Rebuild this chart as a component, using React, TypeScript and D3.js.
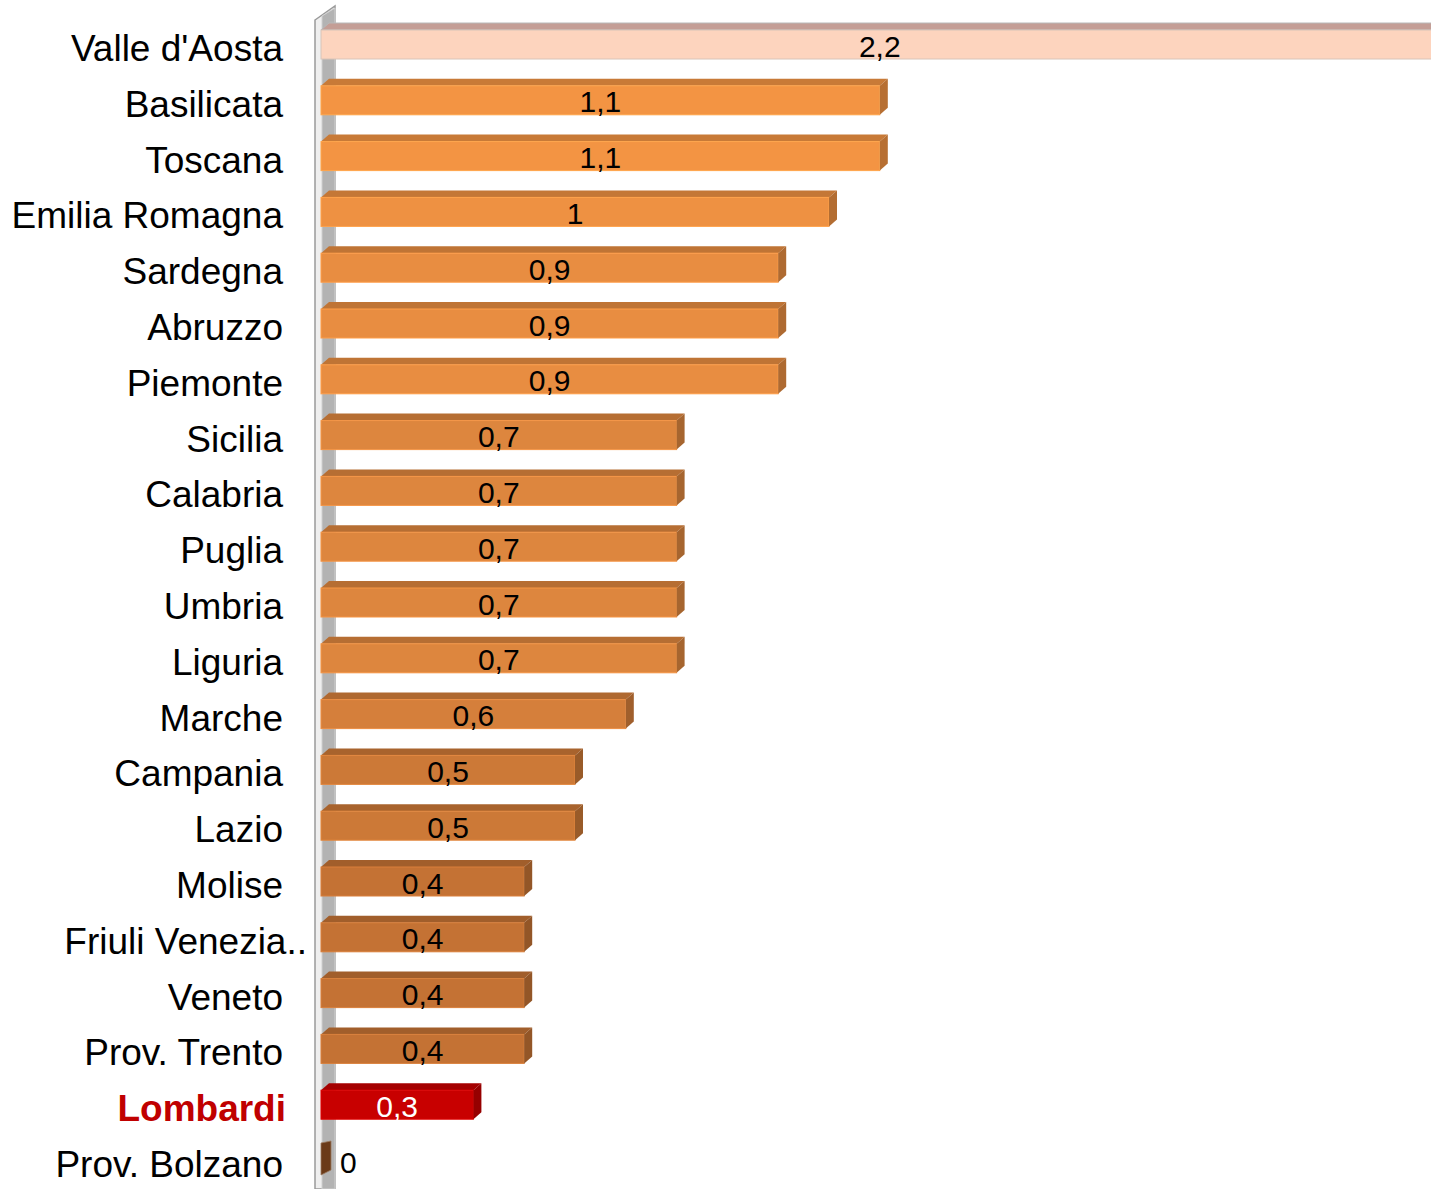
import React, { useEffect, useRef } from 'react';
import * as d3 from 'd3';

// regions, sorted as in the chart
const regions = [
  "Valle d'Aosta", 'Basilicata', 'Toscana', 'Emilia Romagna', 'Sardegna', 'Abruzzo',
  'Piemonte', 'Sicilia', 'Calabria', 'Puglia', 'Umbria', 'Liguria', 'Marche',
  'Campania', 'Lazio', 'Molise', 'Friuli Venezia..', 'Veneto', 'Prov. Trento',
  'Lombardi', 'Prov. Bolzano',
];
const values = [2.2, 1.1, 1.1, 1, 0.9, 0.9, 0.9, 0.7, 0.7, 0.7, 0.7, 0.7, 0.6, 0.5, 0.5, 0.4, 0.4, 0.4, 0.4, 0.3, 0];
const highlight = 'Lombardi';
const outlier = "Valle d'Aosta";

const W = 1431;
const H = 1189;

const App = () => {
  const svgRef = useRef<SVGSVGElement>(null);

  useEffect(() => {
    const svg = d3.select(svgRef.current);
    svg.selectAll('*').remove();

    const x0 = 321;
    const step = 55.8;
    const barH = 29;
    const dx = 8;
    const dy = 7;

    const x = d3.scaleLinear().domain([0, 1]).range([x0, x0 + 508]);
    const y = d3.scaleBand<string>()
      .domain(regions)
      .range([30, 30 + regions.length * step])
      .padding(0);

    const color = d3.scaleLinear<string>()
      .domain([0, 0.4, 0.7, 1.1])
      .range(['#6b3a18', '#c47234', '#dd863e', '#f39443']);

    const fillOf = (r: string, v: number) =>
      r === highlight ? '#c80000' : r === outlier ? '#fdd4be' : color(v);

    // 3D wall
    const wall = svg.append('g');
    wall.append('polygon')
      .attr('points', `315,20 335,6 335,${H} 315,${H}`)
      .attr('fill', '#efefef')
      .attr('stroke', '#9a9a9a')
      .attr('stroke-width', 1.5);
    wall.append('polygon')
      .attr('points', `322,16 335,8 335,${H} 322,${H}`)
      .attr('fill', '#b3b3b3')
      .attr('stroke', '#d0d0d0')
      .attr('stroke-width', 1);

    const bars = svg.append('g');
    regions.forEach((r, i) => {
      const v = values[i];
      const top = y(r)!;
      const x1 = x(v);
      const c = fillOf(r, v);
      const topC = r === outlier ? '#c49e96' : d3.color(c)!.darker(0.55).formatHex();
      const sideC = r === outlier ? '#b89088' : d3.color(c)!.darker(0.8).formatHex();
      const edge = r === outlier ? '#d8c4b8' : d3.color(c)!.brighter(0.3).formatHex();

      if (v > 0) {
        // top face
        bars.append('polygon')
          .attr('points', `${x0},${top} ${x0 + dx},${top - dy} ${x1 + dx},${top - dy} ${x1},${top}`)
          .attr('fill', topC)
          .attr('stroke', r === outlier ? '#b8b8b8' : 'none')
          .attr('stroke-width', 1);
        // front face
        bars.append('rect')
          .attr('x', x0)
          .attr('y', top)
          .attr('width', x1 - x0)
          .attr('height', barH)
          .attr('fill', c)
          .attr('stroke', edge)
          .attr('stroke-width', 1);
        // side face
        bars.append('polygon')
          .attr('points', `${x1},${top} ${x1 + dx},${top - dy} ${x1 + dx},${top + barH - dy} ${x1},${top + barH}`)
          .attr('fill', sideC);
      } else {
        // zero-value bar: only a thin dark block is visible
        bars.append('polygon')
          .attr('points', `${x1},${top - 3} ${x1 + dx + 2},${top - 5} ${x1 + dx + 2},${top + barH - 5} ${x1},${top + barH}`)
          .attr('fill', '#6b3a18')
          .attr('stroke', '#9a7a60')
          .attr('stroke-width', 0.8);
      }

      // value label
      const fmt = d3.format('.1~f')(v).replace('.', ',');
      bars.append('text')
        .attr('x', v > 0 ? (x0 + x1) / 2 : x1 + dx + 11)
        .attr('y', top + 16)
        .attr('dy', '0.35em')
        .attr('text-anchor', v > 0 ? 'middle' : 'start')
        .attr('font-family', 'Liberation Sans, Arial, sans-serif')
        .attr('font-size', 30)
        .attr('fill', r === highlight ? '#ffffff' : '#000000')
        .text(fmt);

      // category label
      const truncated = r.endsWith('..');
      bars.append('text')
        .attr('x', r === highlight ? 286 : truncated ? 307 : 283)
        .attr('y', top + 18)
        .attr('dy', '0.35em')
        .attr('text-anchor', 'end')
        .attr('font-family', 'Liberation Sans, Arial, sans-serif')
        .attr('font-size', 37)
        .attr('font-weight', r === highlight ? 'bold' : 'normal')
        .attr('fill', r === highlight ? '#c00000' : '#000000')
        .text(r);
    });
  }, []);

  return (
    <div style={{ width: W, height: H, overflow: 'hidden' }}>
      <style>{'body{margin:0}'}</style>
      <svg ref={svgRef} width={W} height={H} style={{ display: 'block' }} />
    </div>
  );
};

export default App;
